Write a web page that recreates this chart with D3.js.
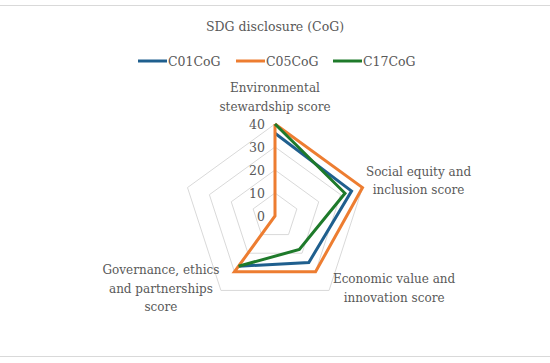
<!DOCTYPE html>
<html>
<head>
<meta charset="utf-8">
<script src="https://cdn.jsdelivr.net/npm/d3@7"></script>
<style>
  body { margin: 0; background: #fff; }
  text { font-family: "DejaVu Serif", "Liberation Serif", serif; fill: #595959; }
</style>
</head>
<body>
<div id="chart"></div>
<script>
// categories (5th spoke has no label in the source chart)
const categories = [
    ["Environmental", "stewardship score"],
    ["Social equity and", "inclusion score"],
    ["Economic value and", "innovation score"],
    ["Governance, ethics", "and partnerships", "score"],
    [""]
];
const seriesNames = ["C01CoG", "C05CoG", "C17CoG"];
const c01 = [36, 35, 25, 27, null];
const c05 = [40, 40, 30, 30, 0];
const c17 = [40, 32, 18, 27, null];
const ticks = [0, 10, 20, 30, 40];

(function () {
    let width = 550, height = 363;
    let cx = 275, cy = 216, R = 92;
    let colors = ["#1f5f8e", "#ed7d31", "#1e7a2a"];
    let fs = "12px";
    let svg = d3.select("#chart")
        .append("svg")
        .attr("width", width)
        .attr("height", height);

    // frame lines
    svg.append("line").attr("x1", 0).attr("x2", width).attr("y1", 5.5).attr("y2", 5.5)
        .attr("stroke", "#d9d9d9");
    svg.append("line").attr("x1", 0).attr("x2", width).attr("y1", 356.5).attr("y2", 356.5)
        .attr("stroke", "#d9d9d9");

    svg.append("text")
        .attr("x", width / 2)
        .attr("y", 31)
        .attr("text-anchor", "middle")
        .attr("font-size", "12.5px")
        .text("SDG disclosure (CoG)");

    // legend
    let legX = [138, 236, 333];
    let lg = svg.append("g").selectAll("g")
        .data(seriesNames)
        .enter()
        .append("g")
        .attr("transform", (_, i) => `translate(${legX[i]},61)`);
    lg.append("line")
        .attr("x1", 0).attr("x2", 29)
        .attr("stroke", (_, i) => colors[i])
        .attr("stroke-width", 3);
    lg.append("text")
        .attr("x", 30)
        .attr("y", 4.5)
        .attr("font-size", "12.5px")
        .text(d => d);

    let r = d3.scaleLinear().domain([0, 40]).range([0, R]);
    let angle = d3.scaleLinear().domain([0, categories.length]).range([0, 2 * Math.PI]);

    let g = svg.append("g").attr("transform", `translate(${cx},${cy})`);

    // grid rings
    let ring = d3.lineRadial()
        .angle((_, i) => angle(i))
        .radius(d => r(d))
        .curve(d3.curveLinearClosed);
    g.selectAll(".ring")
        .data(ticks.slice(1))
        .enter()
        .append("path")
        .attr("d", t => ring(categories.map(() => t)))
        .attr("fill", "none")
        .attr("stroke", "#d9d9d9")
        .attr("stroke-width", 1);

    // tick labels
    g.selectAll(".tick")
        .data(ticks)
        .enter()
        .append("text")
        .attr("x", -10)
        .attr("y", t => -r(t) + 5)
        .attr("text-anchor", "end")
        .attr("font-size", "12.5px")
        .text(t => t);

    // series
    let line = d3.lineRadial()
        .defined(d => d != null)
        .angle((_, i) => angle(i))
        .radius(d => r(d));
    [c01, c05, c17].forEach((vals, k) => {
        g.append("path")
            .attr("d", line(vals.concat([vals[0]])))
            .attr("fill", "none")
            .attr("stroke", colors[k])
            .attr("stroke-width", 3)
            .attr("stroke-linejoin", "miter");
    });

    // category labels, offsets from outer vertex
    let labelPos = [[0, -32], [56, -12], [65, -7], [-60, -16], [0, 0]];
    categories.forEach((lines, i) => {
        let a = angle(i);
        let vx = Math.sin(a) * R, vy = -Math.cos(a) * R;
        let t = g.append("text")
            .attr("text-anchor", "middle")
            .attr("font-size", fs);
        lines.forEach((s, j) => {
            t.append("tspan")
                .attr("x", vx + labelPos[i][0])
                .attr("y", vy + labelPos[i][1] + j * 18.5)
                .text(s);
        });
    });
})()
</script>
</body>
</html>
